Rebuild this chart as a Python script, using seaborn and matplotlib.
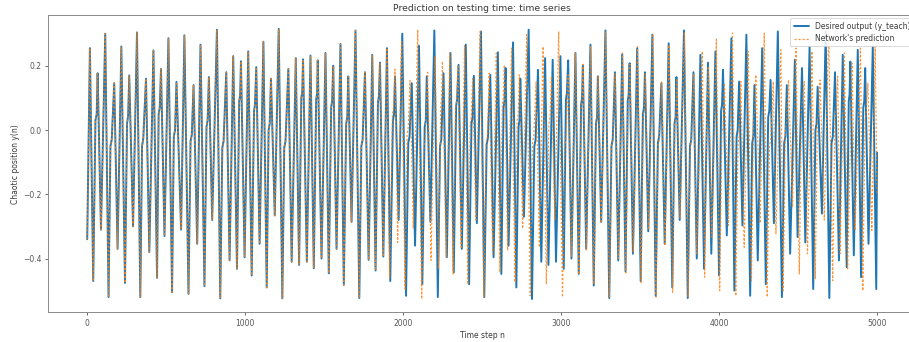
import matplotlib
matplotlib.use("Agg")
import matplotlib.pyplot as plt
import seaborn as sns
import pandas as pd

# Desired output (y_teach): turning points of the chaotic series (time step, value)
teach_steps = [
    0, 17, 38, 52, 60, 66, 87, 114, 135, 147, 155, 171, 192, 216, 239, 252, 259, 266,
    290, 315, 336, 347, 355, 372, 393, 419, 442, 452, 459, 467, 489, 514, 537, 548, 556,
    565, 594, 615, 641, 654, 662, 673, 696, 717, 742, 755, 762, 770, 791, 821, 842, 855,
    863, 880, 901, 924,
    948, 962, 968, 973, 996, 1019, 1041, 1056, 1062, 1070, 1091, 1115, 1136, 1148, 1155,
    1163, 1187, 1212, 1235, 1247, 1255, 1273, 1294, 1320, 1341, 1355, 1361, 1366, 1390,
    1413, 1434, 1449, 1455, 1459, 1483, 1508, 1529, 1544, 1550, 1557, 1578, 1603, 1624,
    1639, 1646, 1652, 1673, 1698, 1722, 1735, 1743, 1758, 1781, 1804, 1825, 1840, 1846,
    1853, 1874, 1897,
    1918, 1935, 1942, 1948, 1971, 1994, 2018, 2032, 2040, 2054, 2075, 2100, 2121, 2136,
    2143, 2149, 2172, 2197, 2219, 2233, 2241, 2255, 2276, 2299, 2320, 2335, 2341, 2350,
    2371, 2396, 2417, 2432, 2439, 2447, 2466, 2492, 2513, 2528, 2536, 2551, 2572, 2599,
    2621, 2635, 2641, 2648, 2667, 2695, 2716, 2730, 2736, 2741, 2764, 2794, 2815, 2830,
    2838, 2853, 2874,
    2898, 2919, 2946, 2967, 2995, 3016, 3030, 3036, 3044, 3065, 3090, 3111, 3126, 3132,
    3137, 3158, 3185, 3206, 3220, 3227, 3232, 3253, 3280, 3304, 3318, 3326, 3340, 3361,
    3386, 3407, 3421, 3427, 3433, 3454, 3481, 3503, 3517, 3524, 3530, 3551, 3577, 3598,
    3612, 3620, 3634, 3655, 3680, 3703, 3717, 3724, 3729, 3750, 3777, 3801, 3815, 3823,
    3837, 3858,
    3881, 3904, 3929, 3950, 3976, 3999, 4012, 4018, 4024, 4048, 4077, 4096, 4110, 4117,
    4126, 4147, 4172, 4196, 4209, 4216, 4223, 4244, 4272, 4295, 4310, 4317, 4325, 4346,
    4371, 4397, 4411, 4419, 4428, 4449, 4479, 4496, 4524, 4545, 4572, 4595, 4609, 4616,
    4623, 4650, 4674, 4697, 4711, 4719, 4733, 4758, 4782, 4807, 4820, 4825, 4830,
    4852, 4877, 4898, 4912, 4918, 4924, 4945, 4972, 4994, 4999,
]
teach_values = [
    -0.34, 0.255, -0.47, 0.03, 0.05, 0.177, -0.31, 0.30, -0.52, -0.05, -0.03, 0.146, -0.37,
    0.26, -0.476, 0.02, 0.045, 0.17, -0.30, 0.304, -0.52, -0.05, -0.025, 0.16, -0.38, 0.248,
    -0.46, 0.05, 0.07, 0.19, -0.33, 0.286, -0.505, -0.02, 0.0, 0.15, -0.31, 0.295, -0.51,
    -0.035, -0.015, 0.14, -0.354, 0.266, -0.486, 0.01, 0.03, 0.165, -0.28, 0.3125, -0.524,
    -0.055, -0.035, 0.18, -0.406, 0.23,
    -0.432, 0.09, 0.11, 0.214, -0.396, 0.245, -0.453, 0.06, 0.08, 0.196, -0.354, 0.275,
    -0.49, 0.0, 0.02, 0.16, -0.266, 0.315, -0.524, -0.055, -0.035, 0.19, -0.41, 0.224,
    -0.42, 0.10, 0.12, 0.22, -0.41, 0.232, -0.43, 0.095, 0.115, 0.217, -0.40, 0.24, -0.446,
    0.07, 0.09, 0.20, -0.37, 0.268, -0.482, 0.02, 0.04, 0.167, -0.286, 0.31, -0.523, -0.05,
    -0.03, 0.18, -0.404, 0.234, -0.4375, 0.085, 0.105, 0.21, -0.394, 0.255,
    -0.47, 0.03, 0.05, 0.167, -0.28, 0.30, -0.516, -0.04, -0.02, 0.146, -0.36, 0.2625,
    -0.48, 0.01, 0.03, 0.167, -0.286, 0.31, -0.52, -0.05, -0.03, 0.177, -0.396, 0.24,
    -0.443, 0.075, 0.095, 0.203, -0.37, 0.266, -0.48, 0.02, 0.04, 0.169, -0.29, 0.307,
    -0.52, -0.045, -0.025, 0.172, -0.396, 0.242, -0.448, 0.07, 0.09, 0.193, -0.36, 0.273,
    -0.49, 0.01, 0.03, 0.16, -0.27, 0.3125, -0.526, -0.05, -0.03, 0.1875, -0.41,
    0.224, -0.42, 0.219, -0.41, 0.23, -0.432, 0.095, 0.115, 0.217, -0.40, 0.24, -0.448,
    0.08, 0.10, 0.20, -0.37, 0.266, -0.484, 0.02, 0.04, 0.167, -0.286, 0.31, -0.523, -0.05,
    -0.03, 0.18, -0.406, 0.236, -0.44, 0.09, 0.11, 0.208, -0.385, 0.255, -0.47, 0.05, 0.07,
    0.18, -0.315, 0.297, -0.516, -0.04, -0.02, 0.146, -0.354, 0.27, -0.49, 0.02, 0.04,
    0.165, -0.28, 0.31, -0.523, -0.05, -0.03, 0.18, -0.40,
    0.234, -0.432, 0.21, -0.385, 0.245, -0.453, 0.06, 0.08, 0.1875, -0.328, 0.286, -0.50,
    -0.02, 0.0, 0.151, -0.297, 0.297, -0.516, -0.04, -0.02, 0.14, -0.406, 0.255, -0.48,
    0.04, 0.06, 0.156, -0.29, 0.307, -0.52, -0.04, -0.02, 0.14, -0.385, 0.219, -0.333,
    0.193, -0.35, 0.26, -0.495, 0.0, 0.02, 0.135, -0.26, 0.307, -0.523, -0.04, -0.02, 0.18,
    -0.406, 0.234, -0.427, 0.09, 0.11, 0.213,
    -0.39, 0.25, -0.458, 0.07, 0.09, 0.193, -0.354, 0.26, -0.495, -0.07,
]

# Network's prediction: follows y_teach until this step, then runs on its own
pred_follow_until = 1897
pred_steps = [
    1914, 1932, 1939, 1948, 1965, 1990, 2011, 2025, 2032, 2043, 2064, 2092, 2117, 2131,
    2139, 2155, 2176, 2202, 2223, 2238, 2244, 2248, 2272, 2295, 2316, 2331, 2338, 2346,
    2367, 2388, 2409, 2424, 2431, 2439, 2460, 2487, 2511, 2525, 2533, 2544, 2566, 2589,
    2612, 2627, 2633, 2640, 2661, 2686, 2707, 2721, 2728, 2735, 2756, 2781, 2804, 2818,
    2826, 2841, 2862, 2885, 2906, 2922, 2929, 2938, 2959, 2984, 3008, 3022, 3030, 3044,
    3065, 3090,
    3112, 3127, 3133, 3138, 3159, 3186, 3207, 3221, 3228, 3233, 3254, 3281, 3305, 3319,
    3327, 3341, 3362, 3388, 3409, 3423, 3429, 3435, 3456, 3483, 3505, 3519, 3526, 3532,
    3553, 3579, 3600, 3614, 3622, 3636, 3657, 3682, 3705, 3719, 3726, 3731, 3752, 3779,
    3803, 3817, 3825, 3839, 3857,
    3893, 3908, 3922, 3927, 3931, 3953, 3982, 4003, 4017, 4024, 4033, 4058, 4084, 4105,
    4119, 4126, 4137, 4158, 4183, 4204, 4218, 4225, 4232, 4259, 4285, 4304, 4318, 4326,
    4342, 4359, 4390, 4405, 4419, 4426, 4439, 4464, 4486, 4507, 4521, 4527, 4538, 4559,
    4587, 4608, 4622, 4629, 4638, 4665, 4693, 4718, 4732, 4739, 4750, 4765, 4792, 4813,
    4841, 4860, 4894, 4909, 4923, 4930, 4941, 4966, 4987, 4999,
]
pred_values = [
    -0.46, 0.05, 0.07, 0.19, -0.35, 0.276, -0.495, -0.01, 0.01, 0.154, -0.307, 0.3125,
    -0.526, -0.05, -0.03, 0.18, -0.406, 0.23, -0.432, 0.08, 0.10, 0.214, -0.396, 0.24,
    -0.448, 0.07, 0.09, 0.198, -0.365, 0.2625, -0.48, 0.02, 0.04, 0.16, -0.28, 0.307,
    -0.52, -0.04, -0.02, 0.177, -0.385, 0.24, -0.443, 0.08, 0.10, 0.203, -0.375, 0.255,
    -0.474, 0.03, 0.05, 0.172, -0.307, 0.297, -0.516, -0.04, -0.02, 0.15, -0.365, 0.26,
    -0.48, 0.02, 0.04, 0.167, -0.28, 0.307, -0.52, -0.05, -0.03, 0.172, -0.396, 0.24,
    -0.45, 0.075, 0.095, 0.205, -0.375, 0.262, -0.48, 0.025, 0.045, 0.17, -0.29, 0.305,
    -0.52, -0.045, -0.025, 0.175, -0.40, 0.24, -0.445, 0.085, 0.105, 0.205, -0.38, 0.26,
    -0.475, 0.045, 0.065, 0.175, -0.31, 0.30, -0.52, -0.045, -0.025, 0.15, -0.36, 0.265,
    -0.505, 0.015, 0.035, 0.16, -0.275, 0.305, -0.52, -0.05, -0.03, 0.175, -0.385,
    0.245, -0.458, 0.09, 0.11, 0.198, -0.333, 0.283, -0.50, -0.01, 0.01, 0.146, -0.297,
    0.302, -0.516, -0.04, -0.02, 0.151, -0.365, 0.245, -0.469, 0.04, 0.06, 0.172, -0.29,
    0.302, -0.52, -0.05, -0.03, 0.151, -0.323, 0.25, -0.50, 0.0, 0.02, 0.156, -0.24,
    0.255, -0.448, 0.07, 0.09, 0.151, -0.385, 0.245, -0.464, 0.03, 0.05, 0.156, -0.28,
    0.307, -0.469, 0.03, 0.05, 0.167, -0.385, 0.24, -0.432, 0.208, -0.3125, 0.255, -0.50,
    0.03, 0.05, 0.146, -0.3125, 0.26, -0.20,
]

title = "Prediction on testing time: time series"
x_label = "Time step n"
y_label = "Chaotic position y(n)"
teach_label = "Desired output (y_teach)"
pred_label = "Network's prediction"
x_ticks = [0, 1000, 2000, 3000, 4000, 5000]
y_ticks = [-0.4, -0.2, 0.0, 0.2]

# --- assemble tables ---
teach_df = pd.DataFrame({"step": teach_steps, "value": teach_values})
shared = teach_df[teach_df["step"] <= pred_follow_until]
pred_df = pd.concat(
    [shared, pd.DataFrame({"step": pred_steps, "value": pred_values})],
    ignore_index=True,
)

sns.set_theme(style="ticks")
plt.rcParams["font.family"] = ["DejaVu Sans"]

fig = plt.figure(figsize=(9.09, 3.42), dpi=100)
ax = fig.add_axes([0.0525, 0.0863, 0.9558, 0.8687])

sns.lineplot(data=teach_df, x="step", y="value", ax=ax, color="#1f77b4",
             linewidth=1.4, label=teach_label, estimator=None, sort=False)
sns.lineplot(data=pred_df, x="step", y="value", ax=ax, color="#ff7f0e",
             linewidth=0.85, alpha=0.85, linestyle=(0, (1.8, 1.6)),
             label=pred_label, estimator=None, sort=False)

ax.set_xlim(-250, 5249)
ax.set_ylim(-0.568, 0.357)
ax.set_xticks(x_ticks)
ax.set_yticks(y_ticks)
ax.set_xticklabels([str(t) for t in x_ticks])
ax.set_yticklabels([f"{t:.1f}".replace("-", "\u2212") for t in y_ticks])

text_color = "#3a3a3a"
ax.set_title(title, fontsize=6.7, color=text_color, pad=3.3)
ax.set_xlabel(x_label, fontsize=5.5, color=text_color, labelpad=2.5)
ax.set_ylabel(y_label, fontsize=5.5, color=text_color, labelpad=2.5)
ax.tick_params(axis="both", labelsize=5.5, colors="#555555", length=2.2,
               width=0.6, pad=2.2)

for side in ["left", "bottom", "top", "right"]:
    ax.spines[side].set_color("#8a8a8a")
    ax.spines[side].set_linewidth(0.7)

leg = ax.legend(loc="upper right", fontsize=5.5, frameon=True,
                borderaxespad=0.4, handlelength=2.0, framealpha=0.85)
leg.get_frame().set_edgecolor("#cccccc")
leg.get_frame().set_linewidth(0.6)
for t in leg.get_texts():
    t.set_color(text_color)

fig.savefig("out.png", dpi=100)
